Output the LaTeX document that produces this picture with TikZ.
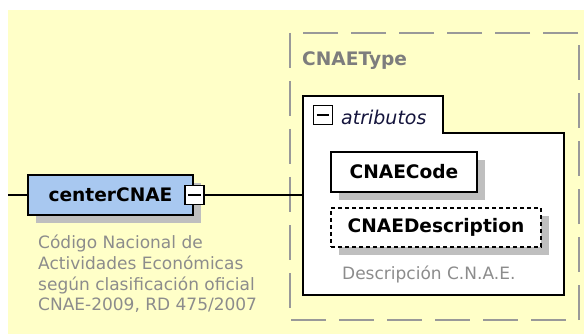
\documentclass[tikz,border=0pt]{standalone}
\usepackage{fontspec}
\setmainfont{DejaVu Sans}
\usetikzlibrary{shadows}
\definecolor{bgyellow}{RGB}{255,255,200}
\definecolor{elemblue}{RGB}{168,200,240}
\definecolor{docgray}{RGB}{140,140,140}
\definecolor{typegray}{RGB}{125,125,125}
\definecolor{attrink}{RGB}{20,20,60}
\tikzstyle{elem} = [rectangle, draw=black, line width=1.6pt, text centered, inner sep=0pt, font=\fontsize{18.6}{22}\selectfont\bfseries, drop shadow={shadow xshift=8pt, shadow yshift=-8pt, fill=gray!50, opacity=1}]
\tikzstyle{attr} = [elem, fill=white]
\tikzstyle{optattr} = [attr, dash pattern=on 4pt off 3pt, line width=1.4pt]
\tikzstyle{minus} = [rectangle, draw=black, fill=white, line width=1.2pt, minimum size=19pt, inner sep=0pt]
\tikzstyle{doc} = [inner sep=0pt, text=docgray, font=\fontsize{17}{20.7}\selectfont, align=left]
\tikzstyle{typebox} = [draw=gray!80, line width=2pt, dash pattern=on 35pt off 13pt]

\begin{document}
\begin{tikzpicture}[x=1pt, y=-1pt]
\useasboundingbox (0,0) rectangle (584,334);
\fill[white] (0,0) rectangle (584,334);
\fill[bgyellow] (8,10) rectangle (584,334);

% complex type frame
\draw[typebox] (290,33) rectangle (579,320);
\node (typename) [anchor=west, inner sep=0pt, text=typegray, font=\fontsize{18.6}{22}\selectfont\bfseries] at (302,61) {CNAEType};

% attribute group
\draw[line width=1.6pt, fill=white] (303,133) -- (303,96) -- (443,96) -- (443,133) -- (564,133) -- (564,295) -- (303,295) -- cycle;
\coordinate (attrin) at (303,195);
\node (tmin) [minus] at (323,115) {};
\draw[line width=1.2pt] ([xshift=4pt]tmin.west) -- ([xshift=-4pt]tmin.east);
\node (attrname) [anchor=west, inner sep=0pt, text=attrink, font=\fontsize{19}{22}\selectfont\itshape] at (341,117) {atributos};

\node (code) [attr, minimum width=146pt, minimum height=40pt] at (404,172) {CNAECode};
\node (descr) [optattr, minimum width=210pt, minimum height=39pt] at (436,227.5) {CNAEDescription};
\node (descrdoc) [doc, anchor=west] at (342,274) {Descripción C.N.A.E.};

% element
\coordinate (start) at (8,195);
\draw[line width=1.2pt] (start) -- (28,195);
\node (center) [elem, fill=elemblue, minimum width=165pt, minimum height=40pt] at (110.5,195) {centerCNAE};
\node (cmin) [minus] at (194.5,195) {};
\draw[line width=1.2pt] ([xshift=4pt]cmin.west) -- ([xshift=-4pt]cmin.east);
\draw[line width=1.2pt] (cmin.east) -- (attrin);
\node (centerdoc) [doc, anchor=north west] at (38,235) {Código Nacional de\\Actividades Económicas\\según clasificación oficial\\CNAE-2009, RD 475/2007};
\end{tikzpicture}
\end{document}
